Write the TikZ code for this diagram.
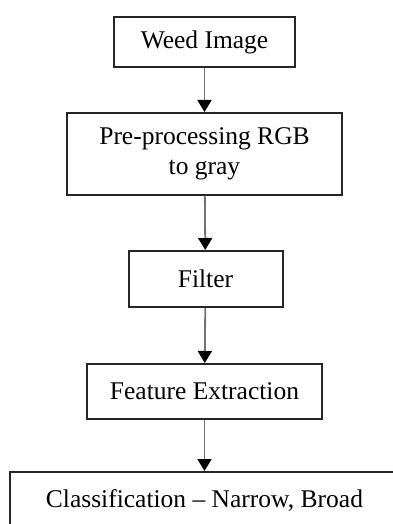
\documentclass[tikz,border=0pt]{standalone}
\usepackage{fontspec}
\setmainfont{Liberation Serif}
\usetikzlibrary{arrows.meta}
\begin{document}
\begin{tikzpicture}[x=1pt,y=-1pt,
  stagebox/.style={draw=black!85, line width=2pt, inner sep=0pt, align=center,
    font=\fontsize{25.5}{30}\selectfont, text=black},
  flow/.style={draw=black!55, line width=1.8pt,
    -{Triangle[width=14pt,length=12pt,color=black]}}]
  \useasboundingbox (0,0) rectangle (393,524);
  % processing stages, top to bottom
  \node[stagebox, minimum width=181pt, minimum height=50pt] (weed) at (204.5,42) {Weed Image};
  \node[stagebox, minimum width=275pt, minimum height=82pt] (pre) at (204.5,154) {Pre-processing RGB\\to gray};
  \node[stagebox, minimum width=154pt, minimum height=56pt] (filt) at (205.5,279) {Filter};
  \node[stagebox, minimum width=235pt, minimum height=55pt] (feat) at (204.5,391.5) {Feature Extraction};
  \node[stagebox, minimum width=389pt, minimum height=56pt] (cls) at (204.5,500) {Classification -- Narrow, Broad};
  % connectors
  \draw[flow] (weed) -- (pre);
  \draw[flow] (pre) -- (filt);
  \draw[flow] (filt) -- (feat);
  \draw[flow] (feat) -- (cls);
\end{tikzpicture}
\end{document}
